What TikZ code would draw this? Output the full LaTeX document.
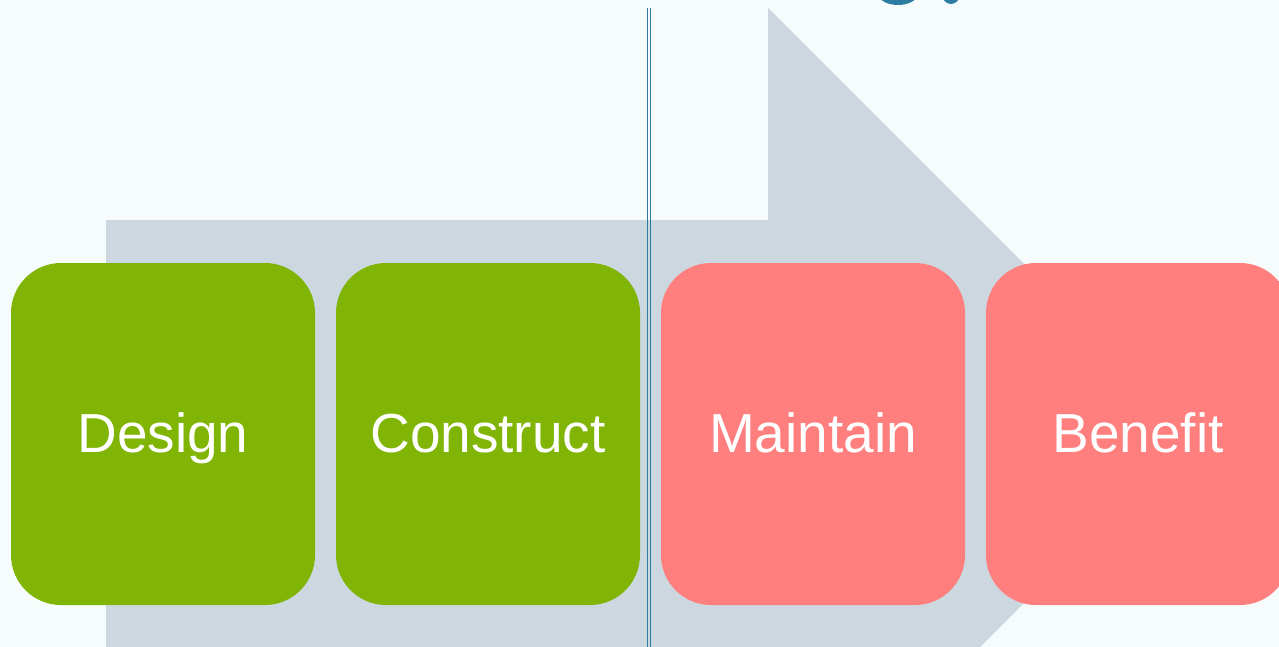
\documentclass[tikz,border=0pt]{standalone}
\usepackage{fontspec}
\setmainfont{Liberation Sans}
\definecolor{bg}{HTML}{F6FBFC}
\definecolor{arrowgray}{HTML}{CDD7DF}
\definecolor{boxgreen}{HTML}{80B505}
\definecolor{boxred}{HTML}{FF7F7F}
\definecolor{lineblue}{HTML}{2C7BA0}
\begin{document}
\begin{tikzpicture}[x=1pt,y=-1pt,
  stage/.style={rounded corners=50pt, minimum width=304pt, minimum height=342pt,
    inner sep=0pt, text=white, text height=40pt, text depth=4pt,
    font=\fontsize{55}{60}\selectfont},
  greenstage/.style={stage, fill=boxgreen},
  redstage/.style={stage, fill=boxred}]
\useasboundingbox (0,0) rectangle (1279,647);
\clip (0,0) rectangle (1279,647);
\fill[bg] (0,0) rectangle (1279,647);
% title fragment (descenders of cut-off title)
\fill[lineblue] (898,-8) ellipse [x radius=21, y radius=13];
\fill[lineblue] (951,-6) ellipse [x radius=9, y radius=10];
% big arrow
\fill[arrowgray] (106,220) -- (768,220) -- (768,8) -- (1193.5,433.5)
  -- (768,859) -- (768,647) -- (106,647) -- cycle;
% divider double line
\coordinate (divtopA) at (647.4,8);
\coordinate (divbotA) at (647.4,647);
\coordinate (divtopB) at (650.6,8);
\coordinate (divbotB) at (650.6,647);
\draw[lineblue, line width=1.6pt] (divtopA) -- (divbotA);
\draw[lineblue, line width=1.6pt] (divtopB) -- (divbotB);
% stages
\node[greenstage] (design) at (163,434) {Design};
\node[greenstage] (construct) at (488,434) {Construct};
\node[redstage] (maintain) at (813,434) {Maintain};
\node[redstage] (benefit) at (1138,434) {Benefit};
\end{tikzpicture}
\end{document}
